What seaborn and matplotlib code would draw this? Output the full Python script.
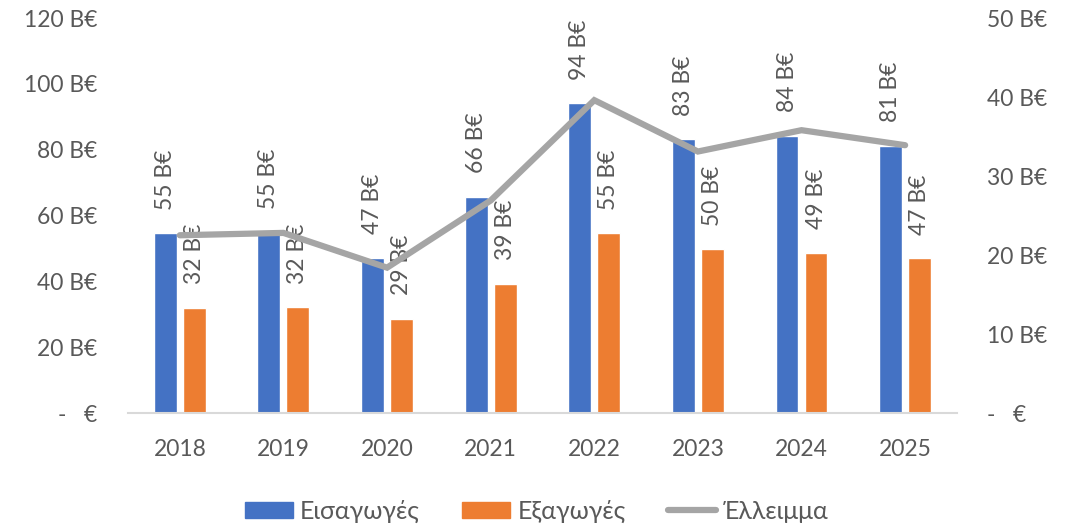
import numpy as np
import pandas as pd
import matplotlib
matplotlib.use("Agg")
import matplotlib.pyplot as plt
import seaborn as sns
from matplotlib.lines import Line2D
from matplotlib.patches import Patch

years = ["2018", "2019", "2020", "2021", "2022", "2023", "2024", "2025"]
imports = [54.6, 54.7, 47.1, 65.7, 94.1, 83.2, 84.2, 81.2]
exports = [32.0, 32.1, 28.7, 39.2, 54.6, 49.7, 48.6, 47.0]
deficit = [22.5, 22.8, 18.4, 26.9, 39.6, 33.1, 35.8, 33.9]
series_names = ["Εισαγωγές", "Εξαγωγές", "Έλλειμμα"]
left_ticks = [0, 20, 40, 60, 80, 100, 120]
right_ticks = [0, 10, 20, 30, 40, 50]

BLUE = "#4472C4"
ORANGE = "#ED7D31"
GREY = "#A5A5A5"
TXT = "#595959"

sns.set_theme(style="white")
plt.rcParams["font.family"] = ["Lato", "Noto Sans", "DejaVu Sans"]
FS = 16.5

df = pd.DataFrame({
    "year": years * 2,
    "value": imports + exports,
    "series": [series_names[0]] * len(years) + [series_names[1]] * len(years),
})

fig = plt.figure(figsize=(10.74, 5.25), dpi=100)
ax = fig.add_axes([0.1192, 0.2133, 0.7718, 0.7524])

sns.barplot(data=df, x="year", y="value", hue="series", order=years,
            hue_order=series_names[:2], palette=[BLUE, ORANGE],
            width=0.56, gap=0.21, ax=ax, legend=False, saturation=1)

ax.set_ylim(0, 120)
ax.set_xlim(-0.5, len(years) - 0.5)
ax.set_yticks(left_ticks)
ax.set_yticklabels(["-   €" if t == 0 else f"{t} B€" for t in left_ticks])
ax.set_xlabel("")
ax.set_ylabel("")
for s in ["top", "right", "left"]:
    ax.spines[s].set_visible(False)
ax.spines["bottom"].set_color("#D9D9D9")
ax.spines["bottom"].set_linewidth(1.5)
ax.tick_params(axis="y", length=0, pad=22, labelsize=FS, labelcolor=TXT)
ax.tick_params(axis="x", length=0, pad=19, labelsize=FS, labelcolor=TXT)

for cont in ax.containers:
    for bar in cont:
        h = bar.get_height()
        ax.annotate(f"{h:.0f} B€", (bar.get_x() + bar.get_width() / 2, h),
                    xytext=(0, 17), textcoords="offset points",
                    rotation=90, ha="center", va="bottom",
                    fontsize=FS, color=TXT)

ax2 = ax.twinx()
ax2.set_position(ax.get_position())
line_df = pd.DataFrame({"pos": np.arange(len(years)), "deficit": deficit})
sns.lineplot(data=line_df, x="pos", y="deficit", ax=ax2, color=GREY,
             linewidth=4.5, solid_capstyle="round", solid_joinstyle="miter")
ax2.set_ylim(0, 50)
ax2.set_yticks(right_ticks)
ax2.set_yticklabels(["-   €" if t == 0 else f"{t} B€" for t in right_ticks])
ax2.set_ylabel("")
ax2.set_xlabel("")
for s in ["top", "right", "left", "bottom"]:
    ax2.spines[s].set_visible(False)
ax2.tick_params(axis="y", length=0, pad=22, labelsize=FS, labelcolor=TXT)
ax.set_xlim(-0.5, len(years) - 0.5)

handles = [Patch(color=BLUE, label=series_names[0]),
           Patch(color=ORANGE, label=series_names[1]),
           Line2D([0], [0], color=GREY, lw=4.5, solid_capstyle="round", label=series_names[2])]
fig.legend(handles=handles, loc="center", bbox_to_anchor=(0.5, 0.026), ncol=3,
           frameon=False, fontsize=18, labelcolor=TXT, handlelength=1.9,
           handleheight=0.6, columnspacing=1.7, handletextpad=0.3)

fig.savefig("out.png", dpi=100)
